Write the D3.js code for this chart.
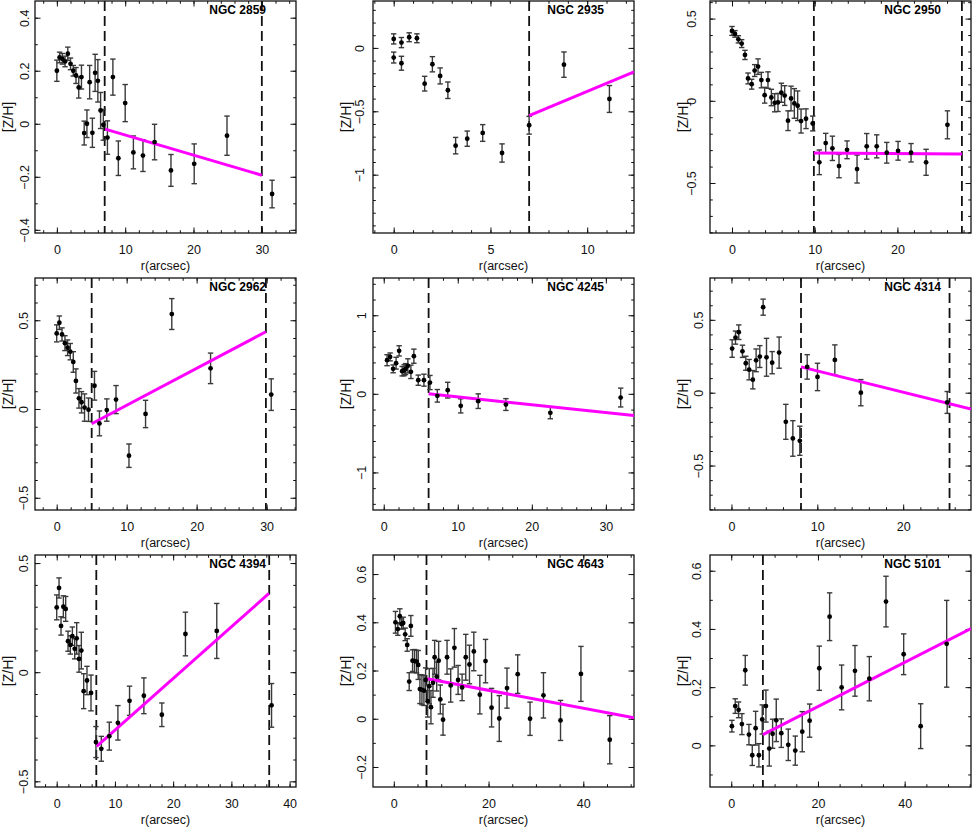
<!DOCTYPE html>
<html>
<head>
<meta charset="utf-8">
<script src="https://cdn.jsdelivr.net/npm/d3@7"></script>
<style>
  body { margin: 0; background: #fff; }
  text { font-family: "Liberation Sans", Arial, sans-serif; }
</style>
</head>
<body>
<svg id="fig" width="972" height="828"></svg>
<script>
// galaxy names, one panel each (row by row)
const names = ["NGC 2859", "NGC 2935", "NGC 2950", "NGC 2962", "NGC 4245",
               "NGC 4314", "NGC 4394", "NGC 4643", "NGC 5101"];

// radius (arcsec), [Z/H] and its error
const r2859 = [0, 0.4, 0.8, 1.2, 1.6, 2.0, 2.4, 2.8, 3.2, 3.6, 4.0, 4.4, 4.8, 5.2, 5.6, 6.0, 6.4, 6.8, 7.4, 8.2, 9.0, 10.0, 11.2, 12.6, 14.3, 16.7, 20.1, 24.9, 31.5];
const z2859 = [0.20, 0.25, 0.245, 0.235, 0.264, 0.226, 0.20, 0.182, 0.137, 0.176, -0.035, 0.0, 0.157, -0.034, 0.192, 0.162, 0.05, -0.004, -0.052, 0.176, -0.13, 0.078, -0.108, -0.12, -0.069, -0.176, -0.151, -0.045, -0.265];
const e2859 = [0.04, 0.02, 0.02, 0.02, 0.025, 0.022, 0.02, 0.03, 0.04, 0.045, 0.045, 0.052, 0.063, 0.055, 0.07, 0.08, 0.068, 0.058, 0.063, 0.068, 0.065, 0.07, 0.062, 0.06, 0.067, 0.06, 0.075, 0.074, 0.052];

const r2935 = [0, 0.4, 0.8, 1.2, 0, 0.4, 1.6, 2.0, 2.4, 2.8, 3.2, 3.8, 4.6, 5.6, 7.0, 8.8, 11.15];
const z2935 = [0.071, 0.042, 0.084, 0.076, -0.076, -0.121, -0.282, -0.129, -0.221, -0.334, -0.771, -0.716, -0.671, -0.829, -0.61, -0.132, -0.403];
const e2935 = [0.04, 0.04, 0.035, 0.035, 0.043, 0.055, 0.058, 0.06, 0.063, 0.065, 0.065, 0.06, 0.066, 0.072, 0.07, 0.1, 0.106];

const r2950 = [0, 0.36, 0.77, 1.17, 1.57, 1.94, 2.38, 2.74, 3.15, 3.55, 3.95, 4.35, 4.76, 5.16, 5.56, 5.97, 6.37, 6.77, 7.14, 7.54, 7.94, 8.35, 8.95, 9.76, 10.56, 11.33, 12.14, 12.94, 13.91, 15.12, 16.29, 17.5, 18.71, 20.08, 21.65, 23.47, 26.05];
const z2950 = [0.425, 0.407, 0.374, 0.348, 0.279, 0.136, 0.101, 0.184, 0.208, 0.126, 0.034, 0.126, 0.02, -0.012, -0.01, 0.049, 0.032, -0.121, 0.014, -0.016, -0.03, -0.123, -0.109, -0.138, -0.374, -0.257, -0.289, -0.397, -0.298, -0.415, -0.277, -0.277, -0.316, -0.304, -0.316, -0.374, -0.146];
const e2950 = [0.027, 0.02, 0.022, 0.024, 0.028, 0.033, 0.03, 0.036, 0.047, 0.047, 0.048, 0.05, 0.05, 0.055, 0.055, 0.058, 0.06, 0.06, 0.075, 0.09, 0.09, 0.073, 0.06, 0.045, 0.075, 0.059, 0.074, 0.071, 0.054, 0.085, 0.078, 0.07, 0.063, 0.057, 0.056, 0.079, 0.085];

const r2962 = [0, 0.38, 0.76, 1.18, 1.56, 1.94, 2.37, 2.75, 3.18, 3.55, 3.98, 4.55, 5.4, 6.11, 7.16, 8.48, 10.33, 12.7, 16.45, 21.99, 30.66];
const z2962 = [0.426, 0.486, 0.42, 0.371, 0.345, 0.323, 0.265, 0.158, 0.06, 0.038, 0.008, -0.004, 0.131, -0.081, -0.006, 0.053, -0.263, -0.028, 0.535, 0.229, 0.081];
const e2962 = [0.048, 0.038, 0.037, 0.042, 0.044, 0.046, 0.058, 0.068, 0.055, 0.06, 0.077, 0.066, 0.081, 0.07, 0.063, 0.079, 0.066, 0.077, 0.087, 0.086, 0.089];

const r4245 = [0.45, 0.86, 1.27, 1.67, 2.08, 2.49, 2.76, 2.95, 3.26, 3.67, 4.07, 4.66, 5.43, 6.24, 7.24, 8.64, 10.4, 12.76, 16.5, 22.5, 32.0];
const z4245 = [0.428, 0.47, 0.318, 0.39, 0.547, 0.288, 0.30, 0.315, 0.356, 0.28, 0.479, 0.174, 0.174, 0.144, -0.025, 0.047, -0.153, -0.093, -0.136, -0.242, -0.047];
const e4245 = [0.07, 0.05, 0.05, 0.075, 0.065, 0.06, 0.07, 0.07, 0.09, 0.085, 0.09, 0.065, 0.076, 0.09, 0.08, 0.1, 0.09, 0.093, 0.075, 0.075, 0.12];

const r4314 = [0.08, 0.47, 0.85, 1.28, 1.67, 2.06, 2.49, 2.87, 3.3, 3.69, 4.08, 4.74, 5.55, 6.33, 7.15, 7.96, 8.82, 10.02, 12.04, 15.07, 25.13];
const z4314 = [0.303, 0.378, 0.415, 0.284, 0.202, 0.158, 0.089, 0.222, 0.248, 0.587, 0.243, 0.206, 0.275, -0.2, -0.314, -0.33, 0.177, 0.108, 0.225, 0.0, -0.067];
const e4314 = [0.06, 0.045, 0.05, 0.042, 0.048, 0.07, 0.063, 0.078, 0.075, 0.055, 0.13, 0.076, 0.107, 0.12, 0.122, 0.1, 0.084, 0.094, 0.103, 0.09, 0.075];

const r4394 = [0, 0.4, 0.74, 1.14, 1.54, 1.94, 2.34, 2.69, 3.09, 3.43, 3.83, 4.23, 4.63, 5.2, 5.89, 6.74, 7.66, 9.03, 10.51, 12.51, 14.97, 18.06, 22.11, 27.49, 36.9];
const z4394 = [0.297, 0.386, 0.212, 0.3, 0.29, 0.142, 0.125, 0.165, 0.107, 0.155, 0.061, 0.099, -0.087, -0.038, -0.095, -0.32, -0.351, -0.293, -0.232, -0.131, -0.108, -0.195, 0.175, 0.189, -0.152];
const e4394 = [0.057, 0.046, 0.042, 0.05, 0.057, 0.046, 0.042, 0.042, 0.046, 0.072, 0.061, 0.084, 0.08, 0.065, 0.082, 0.071, 0.057, 0.064, 0.079, 0.067, 0.082, 0.054, 0.1, 0.126, 0.1];

const r4643 = [0.35, 0.85, 1.27, 1.63, 1.98, 2.4, 2.83, 3.25, 3.6, 3.96, 4.38, 4.81, 5.16, 5.51, 5.94, 6.36, 6.71, 7.14, 7.49, 7.84, 8.27, 8.62, 9.05, 9.47, 9.82, 10.39, 11.24, 12.01, 12.79, 13.57, 14.42, 15.19, 15.97, 16.89, 18.16, 19.36, 20.64, 22.26, 23.89, 26.15, 28.76, 31.59, 35.19, 39.5, 45.58];
const z4643 = [0.4, 0.372, 0.425, 0.393, 0.397, 0.35, 0.306, 0.154, 0.385, 0.241, 0.239, 0.237, 0.223, 0.123, 0.12, 0.117, 0.161, 0.073, 0.135, 0.048, 0.149, 0.255, 0.175, 0.241, 0.08, -0.004, 0.255, 0.138, 0.294, 0.161, 0.13, 0.255, 0.225, 0.279, 0.1, 0.239, 0.046, 0.001, 0.127, 0.185, 0.0, 0.097, -0.007, 0.186, -0.087];
const e4643 = [0.045, 0.026, 0.031, 0.021, 0.024, 0.026, 0.026, 0.037, 0.043, 0.045, 0.048, 0.047, 0.06, 0.06, 0.062, 0.062, 0.05, 0.066, 0.073, 0.069, 0.06, 0.07, 0.06, 0.08, 0.06, 0.064, 0.07, 0.069, 0.08, 0.06, 0.055, 0.095, 0.08, 0.08, 0.08, 0.09, 0.08, 0.095, 0.083, 0.08, 0.069, 0.094, 0.083, 0.114, 0.1];

const r5101 = [0.15, 0.92, 1.69, 2.46, 3.23, 4.08, 4.85, 5.62, 6.38, 7.15, 8.0, 8.77, 9.54, 10.38, 11.54, 13.15, 14.77, 16.38, 18.08, 20.31, 22.69, 25.46, 28.54, 31.85, 35.69, 39.77, 43.69, 49.69];
const z5101 = [0.066, 0.135, 0.122, 0.073, 0.258, 0.037, -0.034, 0.059, -0.034, 0.089, 0.135, -0.011, 0.04, 0.086, 0.042, 0.002, -0.018, 0.047, 0.085, 0.265, 0.442, 0.199, 0.256, 0.229, 0.494, 0.313, 0.066, 0.349];
const e5101 = [0.02, 0.025, 0.027, 0.036, 0.051, 0.035, 0.035, 0.058, 0.04, 0.05, 0.055, 0.06, 0.05, 0.073, 0.049, 0.054, 0.05, 0.069, 0.057, 0.076, 0.082, 0.077, 0.087, 0.076, 0.087, 0.07, 0.077, 0.149];

// dashed radii and the linear fit (r0, z0, r1, z1) of each panel
const cuts = [[7, 30], [7], [9.9, 27.8], [5, 29.9], [6.06], [8.1, 25.4], [6.8, 36.5], [6.9], [7.3]];
const fits = [[7.07, -0.02, 30, -0.194], [7, -0.534, 12.42, -0.19], [9.9, -0.318, 27.8, -0.324],
              [5, -0.083, 29.9, 0.435], [6.06, 0, 33.8, -0.275], [8.1, 0.177, 27.9, -0.112],
              [6.86, -0.34, 36.46, 0.361], [7.07, 0.166, 50.7, 0.004], [7.3, 0.037, 55.3, 0.401]];

// axis ranges and tick steps [major, minor]
const xDomains = [[-3.2, 35], [-1.07, 12.42], [-2.66, 28.9], [-3.1, 34.2], [-1.45, 33.8],
                  [-2.5, 27.9], [-3.73, 41.1], [-4.39, 50.7], [-4.9, 55.3]];
const yDomains = [[-0.412, 0.463], [-1.46, 0.37], [-0.804, 0.607], [-0.569, 0.738], [-1.478, 1.474],
                  [-0.805, 0.787], [-0.526, 0.537], [-0.283, 0.679], [-0.143, 0.654]];
const xSteps = [[10, 2], [5, 1], [10, 2], [10, 2], [10, 2], [10, 2], [10, 2], [20, 5], [20, 5]];
const ySteps = [[0.2, 0.1], [0.5, 0.1], [0.5, 0.1], [0.5, 0.1], [1, 0.2], [0.5, 0.1], [0.5, 0.1], [0.2, 0.1], [0.2, 0.1]];

const radii = [r2859, r2935, r2950, r2962, r4245, r4314, r4394, r4643, r5101];
const metals = [z2859, z2935, z2950, z2962, z4245, z4314, z4394, z4643, z5101];
const errors = [e2859, e2935, e2950, e2962, e4245, e4314, e4394, e4643, e5101];

const svg = d3.select("#fig");
svg.append("rect").attr("width", 972).attr("height", 828).attr("fill", "#fff");

const colX = [35, 373, 710], rowY = [1, 278, 555];
const W = 261, H = 232;
const yLabGap = [6, 9, 14, 7, 7, 7, 7, 7, 9];
const fmt = d3.format("~g");

function stepTicks(dom, step) {
  const a = Math.ceil(dom[0] / step - 1e-9), b = Math.floor(dom[1] / step + 1e-9);
  return d3.range(a, b + 1).map(k => +(k * step).toFixed(6));
}

names.forEach((name, i) => {
  const g = svg.append("g")
    .attr("transform", `translate(${colX[i % 3]},${rowY[Math.floor(i / 3)]})`);

  const x = d3.scaleLinear().domain(xDomains[i]).range([0, W]);
  const y = d3.scaleLinear().domain(yDomains[i]).range([H, 0]);

  const xMaj = stepTicks(xDomains[i], xSteps[i][0]);
  const xMin = stepTicks(xDomains[i], xSteps[i][1]);
  const yMaj = stepTicks(yDomains[i], ySteps[i][0]);
  const yMin = stepTicks(yDomains[i], ySteps[i][1]);

  // pgplot style: ticks inside on all four sides
  const axes = [
    [d3.axisBottom(x), `translate(0,${H})`, xMaj, xMin],
    [d3.axisTop(x), null, xMaj, xMin],
    [d3.axisLeft(y), null, yMaj, yMin],
    [d3.axisRight(y), `translate(${W},0)`, yMaj, yMin]
  ];
  axes.forEach(([ax, tr, maj, mnr], k) => {
    const minorG = g.append("g").attr("transform", tr)
      .call(ax.tickValues(mnr).tickSize(-2.8).tickFormat(""));
    minorG.select(".domain").remove();
    const majorG = g.append("g").attr("transform", tr)
      .call(ax.tickValues(maj).tickSize(-5.5).tickPadding(12).tickFormat(k === 0 || k === 2 ? fmt : ""));
    majorG.select(".domain").remove();
    g.selectAll(".tick line").attr("stroke", "#111").attr("stroke-width", 1);
    if (k === 0) {
      majorG.selectAll("text").attr("font-size", 12.5).attr("fill", "#111")
        .attr("font-family", "Liberation Sans, Arial, sans-serif");
    }
    if (k === 2) {
      majorG.selectAll("text")
        .attr("transform", "rotate(-90)")
        .attr("x", 0).attr("y", -yLabGap[i]).attr("dy", 0)
        .attr("text-anchor", "middle")
        .attr("font-size", 12.5).attr("fill", "#111")
        .attr("font-family", "Liberation Sans, Arial, sans-serif");
    }
  });

  g.append("rect").attr("width", W).attr("height", H)
    .attr("fill", "none").attr("stroke", "#111").attr("stroke-width", 1.3);

  const clipId = "clip" + i;
  g.append("clipPath").attr("id", clipId)
    .append("rect").attr("width", W).attr("height", H);
  const plot = g.append("g").attr("clip-path", `url(#${clipId})`);

  // dashed radial limits
  plot.selectAll("line.cut").data(cuts[i]).enter().append("line")
    .attr("class", "cut")
    .attr("x1", d => x(d)).attr("x2", d => x(d))
    .attr("y1", 0).attr("y2", H)
    .attr("stroke", "#111").attr("stroke-width", 1.8)
    .attr("stroke-dasharray", "10,5");

  // error bars
  const pts = radii[i].map((r, j) => ({ r: r, z: metals[i][j], e: errors[i][j] }));
  const bars = plot.selectAll("g.bar").data(pts).enter().append("g").attr("class", "bar")
    .attr("stroke", "#3a3a3a").attr("stroke-width", 1.4);
  bars.append("line")
    .attr("x1", d => x(d.r)).attr("x2", d => x(d.r))
    .attr("y1", d => y(d.z - d.e)).attr("y2", d => y(d.z + d.e));
  bars.append("line")
    .attr("x1", d => x(d.r) - 2.7).attr("x2", d => x(d.r) + 2.7)
    .attr("y1", d => y(d.z + d.e)).attr("y2", d => y(d.z + d.e));
  bars.append("line")
    .attr("x1", d => x(d.r) - 2.7).attr("x2", d => x(d.r) + 2.7)
    .attr("y1", d => y(d.z - d.e)).attr("y2", d => y(d.z - d.e));

  // linear fit outside the bulge
  const f = fits[i];
  plot.append("line")
    .attr("x1", x(f[0])).attr("y1", y(f[1]))
    .attr("x2", x(f[2])).attr("y2", y(f[3]))
    .attr("stroke", "#ff00ff").attr("stroke-width", 3);

  plot.selectAll("circle").data(pts).enter().append("circle")
    .attr("cx", d => x(d.r)).attr("cy", d => y(d.z))
    .attr("r", 2.4).attr("fill", "#000");

  g.append("text")
    .attr("x", W - 30).attr("y", 12.5)
    .attr("text-anchor", "end")
    .attr("font-size", 12).attr("font-weight", "bold")
    .text(name);

  g.append("text")
    .attr("x", W / 2).attr("y", H + 37)
    .attr("text-anchor", "middle")
    .attr("font-size", 12.5).attr("fill", "#111")
    .text("r(arcsec)");

  g.append("text")
    .attr("transform", `translate(-22,${H / 2}) rotate(-90)`)
    .attr("text-anchor", "middle")
    .attr("font-size", 14).attr("fill", "#111")
    .text("[Z/H]");
});
</script>
</body>
</html>
